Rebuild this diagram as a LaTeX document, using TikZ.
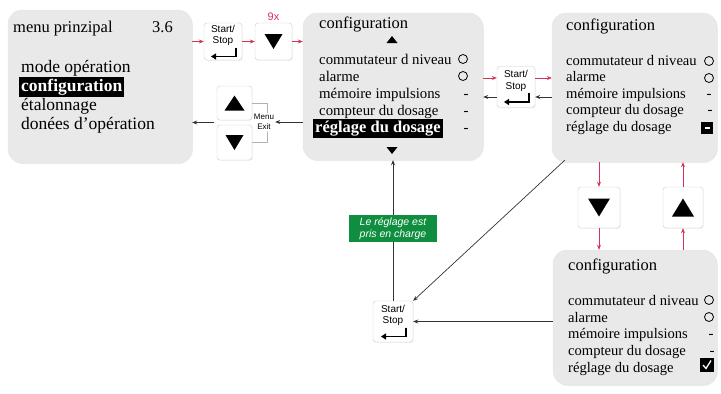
\documentclass[tikz,border=0pt]{standalone}
\usepackage{fontspec}
\setmainfont{Liberation Serif}
\setsansfont{Liberation Sans}
\usetikzlibrary{positioning,arrows.meta,calc,shadows}
\definecolor{scrgray}{RGB}{233,233,233}
\definecolor{keyred}{RGB}{214,52,86}
\definecolor{okgreen}{RGB}{16,142,64}

\begin{document}
\begin{tikzpicture}[x=1pt,y=-1pt,
  screen/.style={fill=scrgray,draw=black!10,rounded corners=14pt,inner sep=0pt,
    drop shadow={shadow xshift=0.8pt,shadow yshift=-1pt,opacity=0.15}},
  keybtn/.style={fill=white,draw=black!20,rounded corners=3pt,inner sep=0pt,
    minimum width=38pt,minimum height=38pt,
    drop shadow={shadow xshift=0.6pt,shadow yshift=-0.8pt,opacity=0.12}},
  keytext/.style={font=\sffamily\fontsize{10}{11.5}\selectfont,align=center,inner sep=0pt},
  head/.style={anchor=base west,inner sep=0pt,font=\fontsize{16.5}{18}\selectfont},
  entry/.style={anchor=base west,inner sep=0pt,font=\fontsize{#1}{18}\selectfont},
  entry/.default=14.8,
  cursel/.style={anchor=base west,fill=black,text=white,inner xsep=2pt,inner ysep=2pt,
    font=\bfseries\fontsize{#1}{18}\selectfont},
  redarr/.style={keyred,line width=0.7pt,-{Stealth[length=5pt,width=4pt]}},
  blkarr/.style={black!80,line width=0.7pt,-{Stealth[length=5pt,width=4pt]}},
  note/.style={fill=okgreen,text=white,font=\sffamily\itshape\fontsize{10.5}{12}\selectfont,
    align=center,minimum width=88pt,minimum height=27pt,inner sep=1pt}]
  \useasboundingbox (0,0) rectangle (721,394);

  % screens
  \node[screen,minimum width=184pt,minimum height=153pt] (scr1) at (100,86.5) {};
  \node[screen,minimum width=180pt,minimum height=147pt] (scr2) at (393,86.5) {};
  \node[screen,minimum width=165pt,minimum height=149pt] (scr3) at (634.5,87.5) {};
  \node[screen,minimum width=164pt,minimum height=135pt] (scr4) at (635,317.5) {};

  % keys
  \node[keybtn,minimum height=37pt] (ss1) at (223,41.5) {};
  \node[keybtn,minimum width=37pt,minimum height=37pt] (dn1) at (273.5,41.5) {};
  \node[keybtn,minimum width=35pt,minimum height=34pt] (up1) at (234.5,103) {};
  \node[keybtn,minimum width=35pt,minimum height=35pt] (dn2) at (234.5,142.5) {};
  \node[keybtn,minimum height=41pt] (ss2) at (516,87) {};
  \node[keybtn,minimum width=42pt,minimum height=41pt] (dn3) at (599,207.5) {};
  \node[keybtn,minimum width=40pt,minimum height=41pt] (up3) at (683,207.5) {};
  \node[keybtn,minimum width=40pt,minimum height=41pt] (ss3) at (393,321.5) {};

  % Start/Stop
  \foreach \k in {ss1,ss2,ss3} {
    \node[keytext] (\k-t) at ([yshift=6pt]\k.center) {Start/\\Stop};
    \draw[line width=1.5pt,-{Triangle[length=5pt,width=6pt]}]
      ($(\k)+(13,6)$) -- ++(0,9) -- ++(-25,0);
  }
  % triangles
  \foreach \k/\w/\h in {dn1/9/7.5,dn2/9/7.5,dn3/11/9}
    \fill ($(\k)+(-\w,-\h)$) -- ++(2*\w,0) -- ++(-\w,2*\h) -- cycle;
  \foreach \k/\w/\h in {up1/10/7.5,up3/11/9}
    \fill ($(\k)+(-\w,\h)$) -- ++(2*\w,0) -- ++(-\w,-2*\h) -- cycle;
  \node[keytext,keyred,font=\sffamily\fontsize{11}{12}\selectfont,above=2pt of dn1] (times) {9x};

  % menu prinzipal
  \node[head] (t1) at (13,32) {menu prinzipal};
  \node[head] (v1) at (152,32) {3.6};
  \node[entry=17.5] (m1a) at (21,72) {mode opération};
  \node[cursel=17.5] (m1b) at (19,91) {configuration};
  \node[entry=17.5] (m1c) at (21,110) {étalonnage};
  \node[entry=17.5] (m1d) at (21,129) {donées d'opération};

  % configuration, curseur
  \node[head] (t2) at (319,28) {configuration};
  \fill (386.5,43) -- (397.5,43) -- (392,36) -- cycle;
  \node[entry] (m2a) at (319,64) {commutateur d niveau};
  \node[entry] (m2b) at (319,81) {alarme};
  \node[entry] (m2c) at (319,98) {mémoire impulsions};
  \node[entry] (m2d) at (319,115) {compteur du dosage};
  \node[cursel=16.5] (m2e) at (313,132) {réglage du dosage};
  \fill (386.5,147) -- (397.5,147) -- (392,154) -- cycle;
  \draw[line width=0.8pt] (463,59) circle[radius=4.5pt] (463,76) circle[radius=4.5pt];
  \foreach \y in {98,115,132}
    \node[entry,anchor=base] (d2-\y) at (466,\y) {-};

  % configuration, edition
  \node[head] (t3) at (566,30) {configuration};
  \node[entry=14.6] (m3a) at (566,65) {commutateur d niveau};
  \node[entry=14.6] (m3b) at (566,81.5) {alarme};
  \node[entry=14.6] (m3c) at (566,98) {mémoire impulsions};
  \node[entry=14.6] (m3d) at (566,114.5) {compteur du dosage};
  \node[entry=14.6] (m3e) at (566,131) {réglage du dosage};
  \draw[line width=0.8pt] (709,61) circle[radius=4.5pt] (709,78) circle[radius=4.5pt];
  \node[entry=15,anchor=base] (d3c) at (709,98) {-};
  \node[entry=15,anchor=base] (d3d) at (710,114.5) {-};
  \node[fill=black,minimum size=12pt,inner sep=0pt] (cur3) at (707,128) {};
  \draw[white,line width=1.2pt] ($(cur3)+(-2.5,0)$) -- ++(5,0);

  % configuration, valide
  \node[head] (t4) at (568,270) {configuration};
  \node[entry=14.6] (m4a) at (568,305) {commutateur d niveau};
  \node[entry=14.6] (m4b) at (568,322) {alarme};
  \node[entry=14.6] (m4c) at (568,338.5) {mémoire impulsions};
  \node[entry=14.6] (m4d) at (568,355) {compteur du dosage};
  \node[entry=14.6] (m4e) at (568,372) {réglage du dosage};
  \draw[line width=0.8pt] (709,300) circle[radius=4.5pt] (709,317) circle[radius=4.5pt];
  \node[entry=15,anchor=base] (d4c) at (711,338.5) {-};
  \node[entry=15,anchor=base] (d4d) at (712,355) {-};
  \node[fill=black,minimum size=14pt,inner sep=0pt] (chk) at (707,365) {};
  \draw[white,line width=1.3pt] ($(chk)+(-4,0)$) -- ++(3,3.5) -- ++(5,-8);

  % Menu/Exit
  \coordinate (mx) at (267,123);
  \draw[black!30] (up1.east) -| (mx) |- (dn2.east);
  \node[keytext,fill=white,font=\sffamily\fontsize{8}{10}\selectfont,inner sep=1pt] (menu) at (264,122) {Menu\\Exit};
  \coordinate (kl) at ($(up1.south west)!.5!(dn2.north west)$);

  % fleches rouges
  \draw[redarr] (scr1.east |- ss1) -- (ss1.west);
  \draw[redarr] (ss1.east) -- (ss1 -| dn1.west);
  \draw[redarr] (ss1 -| dn1.east) -- (ss1 -| scr2.west);
  \coordinate (r2) at ([yshift=9pt]ss2.center);
  \coordinate (b2) at ([yshift=-10pt]ss2.center);
  \draw[redarr] (r2 -| scr2.east) -- (r2 -| ss2.west);
  \draw[redarr] (r2 -| ss2.east) -- (r2 -| scr3.west);
  \draw[redarr] (dn3.north |- scr3.south) -- (dn3.north);
  \draw[redarr] (dn3.south) -- (dn3.south |- scr4.north);
  \draw[redarr] (up3.south |- scr4.north) -- (up3.south);
  \draw[redarr] (up3.north) -- (up3.north |- scr3.south);

  % fleches noires
  \draw[blkarr] (b2 -| scr3.west) -- (b2 -| ss2.east);
  \draw[blkarr] (b2 -| ss2.west) -- (b2 -| scr2.east);
  \draw[blkarr] (scr2.west |- menu) -- (menu.east);
  \draw[blkarr] ([xshift=-3pt]kl) -- (kl -| scr1.east);
  \coordinate (c3) at ($(scr3.south west)+(13,-2)$);
  \draw[blkarr] (c3) -- (ss3.north east);
  \draw[blkarr] (scr4.west |- ss3) -- (ss3.east);
  \draw[blkarr] (ss3.north) -- (ss3.north |- scr2.south);
  \node[note] (ok) at (393,228.5) {Le réglage est\\pris en charge};
\end{tikzpicture}
\end{document}
